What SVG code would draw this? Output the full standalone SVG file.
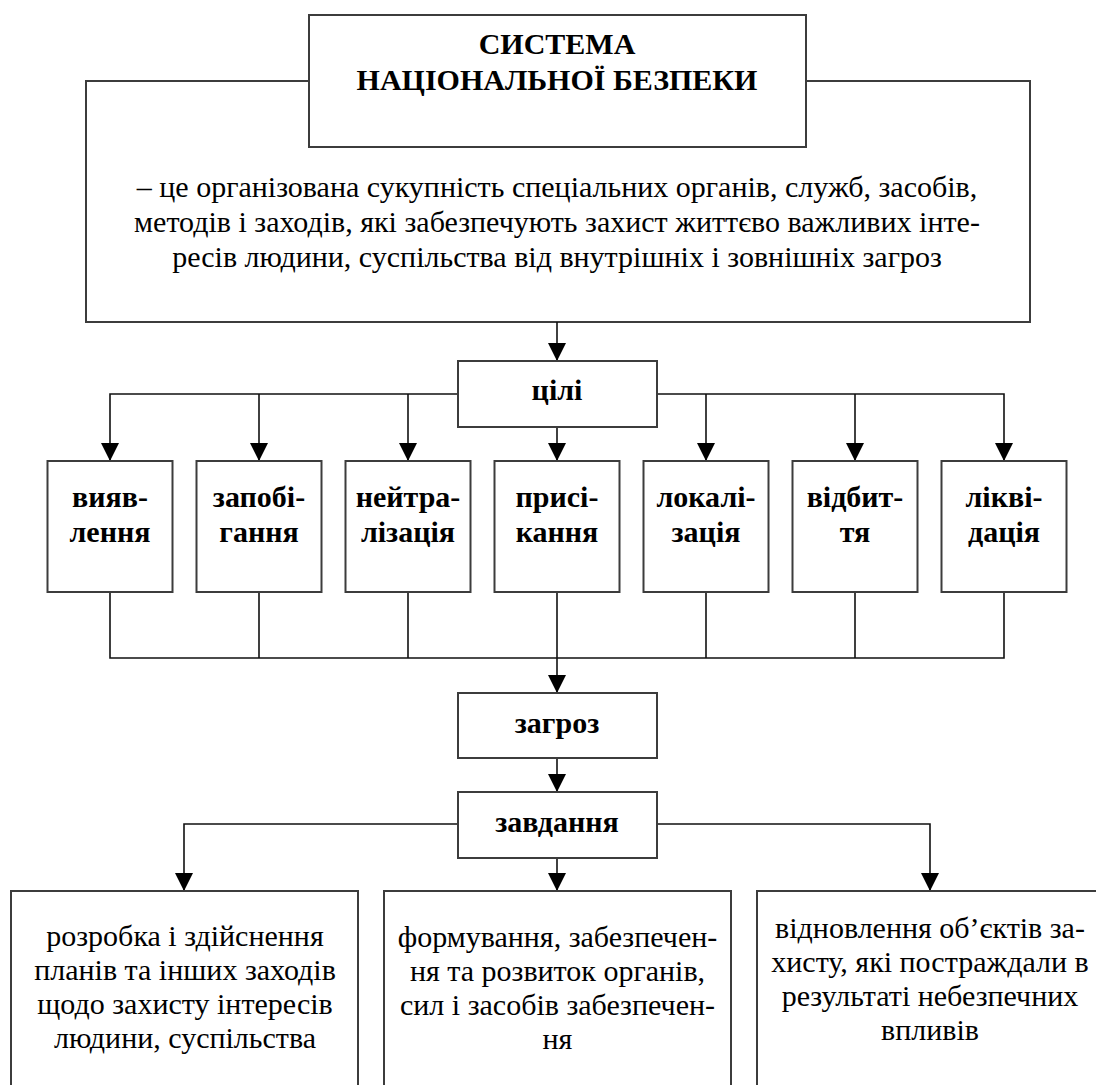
<svg xmlns="http://www.w3.org/2000/svg" width="1096" height="1085" viewBox="0 0 1096 1085">
<defs>
<style>
.box{fill:#fff;stroke:#3c3c3c;stroke-width:2}
.con{fill:none;stroke:#111;stroke-width:1.6}
.t{font-family:"Liberation Serif","Times New Roman",serif;font-size:30px;fill:#000;text-anchor:middle}
.b{font-weight:bold}
</style>
<marker id="ah" markerUnits="userSpaceOnUse" markerWidth="18" markerHeight="18" viewBox="0 0 18 18" refX="18" refY="9" orient="auto">
<path d="M0,0 L18,9 L0,18 Z" fill="#000"/>
</marker>
</defs>
<rect width="1096" height="1085" fill="#fff"/>
<g id="definition">
<rect class="box" x="86" y="81" width="944" height="241"/>
<text class="t" x="557" y="197">– це організована сукупність спеціальних органів, служб, засобів,</text>
<text class="t" x="557" y="232">методів і заходів, які забезпечують захист життєво важливих інте-</text>
<text class="t" x="557" y="267">ресів людини, суспільства від внутрішніх і зовнішніх загроз</text>
</g>
<g id="title">
<rect class="box" x="309" y="15" width="497" height="132"/>
<text class="t b" x="557" y="54">СИСТЕМА</text>
<text class="t b" x="557" y="90">НАЦІОНАЛЬНОЇ БЕЗПЕКИ</text>
</g>
<g id="connectors">
<path class="con" d="M557,322 V361" marker-end="url(#ah)"/>
<path class="con" d="M458,394 H110 V461" marker-end="url(#ah)"/>
<path class="con" d="M259,394 V461" marker-end="url(#ah)"/>
<path class="con" d="M408,394 V461" marker-end="url(#ah)"/>
<path class="con" d="M557,427 V461" marker-end="url(#ah)"/>
<path class="con" d="M657,394 H1004 V461" marker-end="url(#ah)"/>
<path class="con" d="M706,394 V461" marker-end="url(#ah)"/>
<path class="con" d="M855,394 V461" marker-end="url(#ah)"/>
<path class="con" d="M110,592 V658 H1004 V592"/>
<path class="con" d="M259,592 V658 M408,592 V658 M706,592 V658 M855,592 V658"/>
<path class="con" d="M557,592 V693" marker-end="url(#ah)"/>
<path class="con" d="M557,758 V792" marker-end="url(#ah)"/>
<path class="con" d="M458,824 H184 V891" marker-end="url(#ah)"/>
<path class="con" d="M557,858 V891" marker-end="url(#ah)"/>
<path class="con" d="M657,824 H930 V891" marker-end="url(#ah)"/>
</g>
<g id="goals">
<rect class="box" x="458" y="361" width="199" height="66"/>
<text class="t b" x="557" y="400">цілі</text>
</g>
<g id="n1">
<rect class="box" x="47.5" y="461" width="125" height="131"/>
<text class="t b" x="110" y="507">вияв-</text>
<text class="t b" x="110" y="542">лення</text>
</g>
<g id="n2">
<rect class="box" x="196.5" y="461" width="125" height="131"/>
<text class="t b" x="259" y="507">запобі-</text>
<text class="t b" x="259" y="542">гання</text>
</g>
<g id="n3">
<rect class="box" x="345.5" y="461" width="125" height="131"/>
<text class="t b" x="408" y="507">нейтра-</text>
<text class="t b" x="408" y="542">лізація</text>
</g>
<g id="n4">
<rect class="box" x="494.5" y="461" width="125" height="131"/>
<text class="t b" x="557" y="507">присі-</text>
<text class="t b" x="557" y="542">кання</text>
</g>
<g id="n5">
<rect class="box" x="643.5" y="461" width="125" height="131"/>
<text class="t b" x="706" y="507">локалі-</text>
<text class="t b" x="706" y="542">зація</text>
</g>
<g id="n6">
<rect class="box" x="792.5" y="461" width="125" height="131"/>
<text class="t b" x="855" y="507">відбит-</text>
<text class="t b" x="855" y="542">тя</text>
</g>
<g id="n7">
<rect class="box" x="941.5" y="461" width="125" height="131"/>
<text class="t b" x="1004" y="507">лікві-</text>
<text class="t b" x="1004" y="542">дація</text>
</g>
<g id="threats">
<rect class="box" x="458" y="693" width="199" height="65"/>
<text class="t b" x="557" y="733">загроз</text>
</g>
<g id="tasks">
<rect class="box" x="458" y="792" width="199" height="66"/>
<text class="t b" x="557" y="832">завдання</text>
</g>
<g id="task1">
<rect class="box" x="11" y="891" width="347" height="210"/>
<text class="t" x="185" y="946">розробка і здійснення</text>
<text class="t" x="185" y="980">планів та інших заходів</text>
<text class="t" x="185" y="1014">щодо захисту інтересів</text>
<text class="t" x="185" y="1048">людини, суспільства</text>
</g>
<g id="task2">
<rect class="box" x="384" y="891" width="347" height="210"/>
<text class="t" x="557.5" y="947">формування, забезпечен-</text>
<text class="t" x="557.5" y="981">ня та розвиток органів,</text>
<text class="t" x="557.5" y="1015">сил і засобів забезпечен-</text>
<text class="t" x="557.5" y="1049">ня</text>
</g>
<g id="task3">
<rect class="box" x="757" y="891" width="346" height="210"/>
<text class="t" x="930" y="938">відновлення об’єктів за-</text>
<text class="t" x="930" y="972">хисту, які постраждали в</text>
<text class="t" x="930" y="1006">результаті небезпечних</text>
<text class="t" x="930" y="1040">впливів</text>
</g>
</svg>
